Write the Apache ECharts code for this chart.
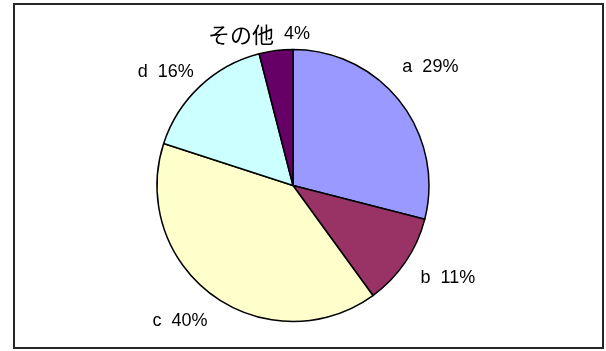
<!DOCTYPE html>
<html>
<head>
<meta charset="utf-8">
<script src="https://cdn.jsdelivr.net/npm/echarts@6/dist/echarts.min.js"></script>
<style>
  html, body { margin: 0; padding: 0; background: #fff; }
  #chart { width: 606px; height: 351px; }
</style>
</head>
<body>
<div id="chart"></div>
<script>
// Share of each category (percent)
const categories = ['a', 'b', 'c', 'd', 'その他'];
const shares = [29, 11, 40, 16, 4];

const palette = ['#9999FF', '#993366', '#FFFFCC', '#CCFFFF', '#660066'];

const CX = 293, CY = 185.5, R = 136, LABEL_GAP = 14;
const total = shares.reduce((s, v) => s + v, 0);

// Hand-placed label adjustments, keyed by slice name
const labelNudge = {
  'a': [-3, -10],
  'b': [8, -7],
  'c': [-11, -5],
  'd': [-7, 15],
  'その他': [-13, 15]
};

// Place each label just clear of the circle, along the slice's middle direction
function placeLabel(params) {
  const i = params.dataIndex;
  let before = 0;
  for (let k = 0; k < i; k++) before += shares[k];
  const mid = (before + shares[i] / 2) / total * Math.PI * 2;
  const dx = Math.sin(mid), dy = -Math.cos(mid);
  const w = params.labelRect.width, h = params.labelRect.height;
  const dist = R + LABEL_GAP + Math.abs(dx) * w / 2 + Math.abs(dy) * h / 2;
  const n = labelNudge[categories[i]] || [0, 0];
  return {
    x: CX + dx * dist + n[0],
    y: CY + dy * dist + n[1],
    align: 'center',
    verticalAlign: 'middle'
  };
}

const chart = echarts.init(document.getElementById('chart'), null, { renderer: 'canvas' });
chart.setOption({
  animation: false,
  color: palette,
  graphic: [{
    type: 'rect',
    shape: { x: 14, y: 4, width: 589, height: 344 },
    style: { fill: 'none', stroke: '#262626', lineWidth: 2 },
    silent: true
  }],
  series: [{
    type: 'pie',
    center: [CX, CY],
    radius: R,
    startAngle: 90,
    clockwise: true,
    silent: true,
    emphasis: { disabled: true },
    itemStyle: { borderColor: '#000', borderWidth: 1.5 },
    label: {
      show: true,
      position: 'outside',
      color: '#000',
      fontFamily: 'Liberation Sans, Arial, sans-serif',
      fontSize: 18,
      formatter: p => p.name.replace(/[^\x00-\x7f]+/g, s => '{j|' + s + '}') + '  ' + p.value + '%',
      rich: {
        j: { fontFamily: 'Noto Sans CJK JP', fontSize: 22, color: '#000' }
      }
    },
    labelLine: { show: false },
    labelLayout: placeLabel,
    data: categories.map((name, i) => ({ name: name, value: shares[i] }))
  }]
});
</script>
</body>
</html>
